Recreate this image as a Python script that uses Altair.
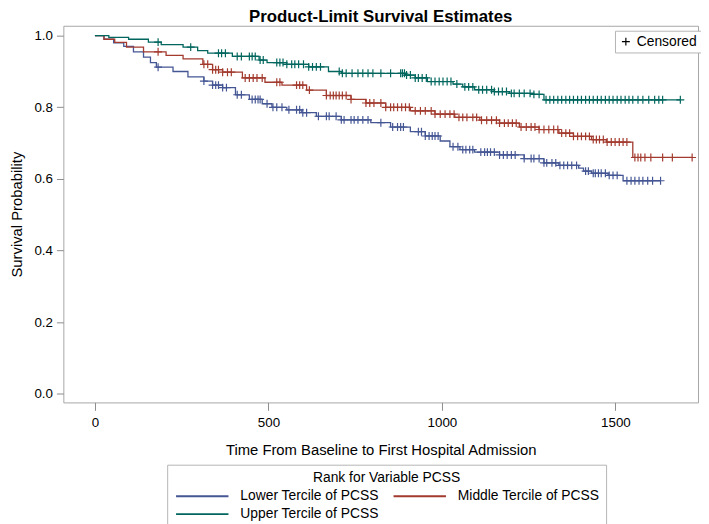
import altair as alt
import pandas as pd

FONT = "Liberation Sans, Arial, sans-serif"

GROUPS = ["Lower Tercile of PCSS", "Middle Tercile of PCSS", "Upper Tercile of PCSS"]
COLORS = ["#445694", "#A23A2E", "#01665E"]

# Step curves (event times and survival after each step), last entry = end of follow-up
lower_t = [0, 26, 54, 83, 111, 140, 160, 177, 225, 268, 314, 339, 368, 405, 445, 482, 510, 553, 596,
           638, 710, 795, 852, 909, 952, 995, 1023, 1052, 1094, 1166, 1237, 1294, 1337, 1394, 1408,
           1431, 1479, 1522, 1630]
lower_s = [1.0, 0.99, 0.98, 0.97, 0.955, 0.94, 0.925, 0.912, 0.90, 0.885, 0.873, 0.862, 0.855, 0.835,
           0.822, 0.81, 0.80, 0.793, 0.785, 0.775, 0.765, 0.757, 0.745, 0.732, 0.72, 0.706, 0.69, 0.682,
           0.675, 0.667, 0.657, 0.645, 0.638, 0.630, 0.622, 0.616, 0.610, 0.595, 0.595]

middle_t = [0, 26, 57, 91, 140, 205, 254, 311, 339, 368, 425, 490, 539, 610, 667, 738, 781, 838, 909,
            980, 1037, 1109, 1166, 1223, 1280, 1337, 1379, 1431, 1474, 1550, 1721]
middle_s = [1.0, 0.99, 0.981, 0.968, 0.955, 0.945, 0.935, 0.92, 0.905, 0.898, 0.882, 0.87, 0.862, 0.848,
            0.833, 0.822, 0.812, 0.80, 0.79, 0.781, 0.772, 0.764, 0.756, 0.745, 0.738, 0.728, 0.719,
            0.71, 0.703, 0.66, 0.66]

upper_t = [0, 40, 97, 154, 191, 254, 296, 325, 396, 473, 496, 553, 616, 673, 710, 895, 923, 958, 1032,
           1060, 1094, 1151, 1194, 1265, 1294, 1687]
upper_s = [1.0, 0.995, 0.99, 0.982, 0.975, 0.968, 0.958, 0.951, 0.942, 0.932, 0.925, 0.92, 0.913, 0.90,
           0.895, 0.89, 0.882, 0.872, 0.865, 0.857, 0.849, 0.844, 0.839, 0.836, 0.821, 0.821]

# Censoring times
lower_c = [182, 314, 339, 348, 356, 368, 379, 410, 422, 453, 462, 470, 476, 496, 513, 524, 539, 559, 581,
           590, 599, 610, 644, 667, 675, 695, 710, 718, 738, 747, 758, 772, 787, 824, 858, 872, 881, 889,
           932, 941, 952, 963, 972, 980, 989, 1032, 1046, 1060, 1069, 1080, 1089, 1112, 1123, 1131, 1140,
           1151, 1166, 1177, 1188, 1200, 1211, 1237, 1257, 1265, 1280, 1294, 1302, 1317, 1328, 1340, 1351,
           1362, 1374, 1388, 1414, 1422, 1436, 1442, 1451, 1459, 1471, 1482, 1493, 1505, 1533, 1545, 1556,
           1568, 1579, 1593, 1607, 1630]
middle_c = [182, 314, 325, 339, 348, 356, 368, 382, 393, 433, 445, 456, 467, 482, 524, 533, 581, 590, 599,
            618, 667, 678, 687, 695, 704, 713, 724, 738, 781, 792, 804, 824, 838, 852, 861, 872, 884, 895,
            906, 923, 938, 952, 969, 980, 995, 1009, 1023, 1035, 1049, 1060, 1072, 1089, 1100, 1114, 1129,
            1143, 1157, 1166, 1180, 1191, 1203, 1214, 1228, 1243, 1257, 1268, 1280, 1294, 1308, 1322, 1334,
            1345, 1357, 1368, 1379, 1391, 1402, 1414, 1425, 1436, 1445, 1454, 1465, 1476, 1488, 1499, 1511,
            1522, 1533, 1556, 1565, 1573, 1585, 1602, 1636, 1664, 1721]
upper_c = [182, 276, 356, 365, 376, 410, 422, 445, 453, 462, 476, 485, 524, 533, 542, 553, 567, 576, 587,
           601, 616, 627, 638, 650, 704, 713, 724, 741, 758, 772, 787, 801, 824, 852, 881, 886, 892, 898,
           909, 923, 932, 943, 955, 969, 980, 992, 1003, 1015, 1026, 1043, 1066, 1077, 1089, 1106, 1117,
           1129, 1143, 1151, 1163, 1174, 1186, 1200, 1208, 1223, 1237, 1254, 1265, 1280, 1300, 1311, 1322,
           1334, 1345, 1357, 1368, 1379, 1391, 1402, 1414, 1425, 1436, 1448, 1459, 1471, 1482, 1493, 1505,
           1516, 1528, 1539, 1550, 1565, 1579, 1596, 1613, 1625, 1636, 1687]

X_TICKS = [0, 500, 1000, 1500]
Y_TICKS = [0.0, 0.2, 0.4, 0.6, 0.8, 1.0]

curves = [(lower_t, lower_s, lower_c), (middle_t, middle_s, middle_c), (upper_t, upper_s, upper_c)]


def surv_at(ts, ss, t):
    val = ss[0]
    for ti, si in zip(ts, ss):
        if ti <= t:
            val = si
    return val


line_rows, cens_rows = [], []
for g, (ts, ss, cs) in zip(GROUPS, curves):
    for t, s in zip(ts, ss):
        line_rows.append({"time": t, "surv": s, "group": g})
    for c in cs:
        cens_rows.append({"time": c, "surv": surv_at(ts, ss, c), "group": g, "kind": "Censored"})

lines_df = pd.DataFrame(line_rows)
cens_df = pd.DataFrame(cens_rows)

xscale = alt.Scale(domain=[-91, 1738], nice=False, zero=False)
yscale = alt.Scale(domain=[-0.0237, 1.0276], nice=False, zero=False)

x_axis = alt.Axis(values=X_TICKS, format="d", tickSize=8, labelPadding=5, titlePadding=14,
                  title="Time From Baseline to First Hospital Admission")
y_axis = alt.Axis(values=Y_TICKS, format=".1f", tickSize=7, labelPadding=4, titlePadding=10,
                  title="Survival Probability")

# legend line symbol: a 53px horizontal stroke starting at the entry's left edge
LINE_SYMBOL = "M-1,0L12.25,0"
color_legend = alt.Legend(
    title="Rank for Variable PCSS", orient="none", legendX=105, legendY=444, columns=2,
    direction="horizontal",
    symbolType=LINE_SYMBOL, symbolSize=64, symbolStrokeWidth=2, titleAnchor="middle",
    titleFont=FONT, titleFontSize=14, titleFontWeight="normal", titleColor="black", titleLimit=400,
    labelFont=FONT, labelFontSize=14, labelColor="black", labelOffset=54,
    columnPadding=10, rowPadding=4, titlePadding=5, padding=6,
    strokeColor="#b5b5b5", fillColor="white", labelLimit=400,
)
color = alt.Color("group:N", scale=alt.Scale(domain=GROUPS, range=COLORS), legend=color_legend)

lines = alt.Chart(lines_df).mark_line(interpolate="step-after", strokeWidth=1.3).encode(
    x=alt.X("time:Q", scale=xscale, axis=x_axis),
    y=alt.Y("surv:Q", scale=yscale, axis=y_axis),
    color=color,
)

PLUS = "M-1,0L1,0M0,-1L0,1"
cens = alt.Chart(cens_df).mark_point(filled=False, strokeWidth=1.2, size=64, opacity=1).encode(
    x=alt.X("time:Q", scale=xscale, axis=x_axis),
    y=alt.Y("surv:Q", scale=yscale, axis=y_axis),
    color=color,
    shape=alt.Shape("kind:N", scale=alt.Scale(domain=["Censored"], range=[PLUS]),
                    legend=alt.Legend(title=None, orient="none", legendX=558, legendY=5,
                                      symbolStrokeColor="black", symbolStrokeWidth=1.2,
                                      symbolSize=64, labelFont=FONT, labelFontSize=14,
                                      labelColor="black", labelOffset=4, padding=4,
                                      strokeColor="#b5b5b5", fillColor="white")),
)

chart = alt.layer(lines, cens).properties(
    width=642, height=381,
    padding={"left": 56, "top": 15, "right": 3, "bottom": 120},
    autosize=alt.AutoSizeParams(type="none"),
    title=alt.TitleParams("Product-Limit Survival Estimates", font=FONT, fontSize=17,
                          fontWeight="bold", anchor="middle", color="black", offset=0),
).configure_view(stroke="#a6a6a6", strokeWidth=1).configure_axis(
    labelFont=FONT, titleFont=FONT, labelFontSize=13.5, titleFontSize=15, labelColor="black",
    titleColor="black", titleFontWeight="normal", tickColor="#8c8c8c", domain=False, grid=False,
)

chart.save("out.html", embed_options={"renderer": "svg", "actions": False})
